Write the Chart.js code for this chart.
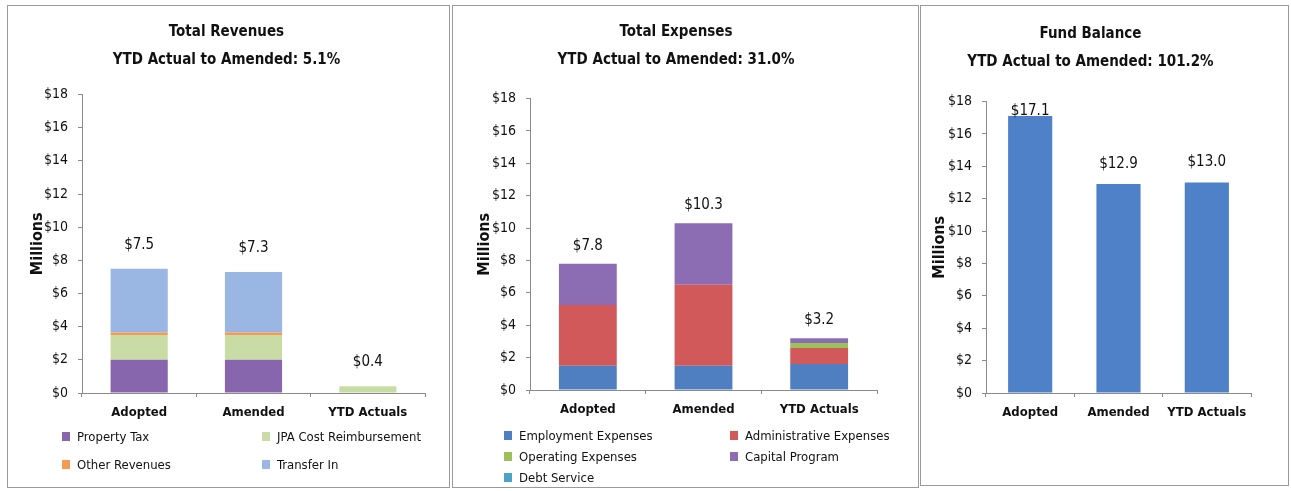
<!DOCTYPE html>
<html>
<head>
<meta charset="utf-8">
<script src="https://cdn.jsdelivr.net/npm/chart.js@4.4.1/dist/chart.umd.min.js"></script>
<style>
  body { margin: 0; background: #fff; width: 1291px; height: 491px; position: relative; overflow: hidden; }
  .panel { position: absolute; border: 1px solid #9a9a9a; background: #fff; }
  .panel canvas { position: absolute; left: 0; top: 0; }
  .legend { position: absolute; display: grid; font-family: 'Liberation Sans Narrow', 'DejaVu Sans Condensed', 'Liberation Sans', sans-serif; font-size: 13px; color: #111; }
  .legend .item { display: flex; align-items: center; white-space: nowrap; }
  .legend .box { width: 8px; height: 9px; margin-right: 7px; }
</style>
</head>
<body>
<div class="panel" id="p1" style="left:7px;top:5px;width:441px;height:481px;">
  <canvas id="revChart" width="441" height="481"></canvas>
  <div class="legend" id="revLegend" style="left:54px;top:423px;grid-template-columns:200px 180px;row-gap:13px;"></div>
</div>
<div class="panel" id="p2" style="left:452px;top:5px;width:465px;height:481px;">
  <canvas id="expChart" width="465" height="481"></canvas>
  <div class="legend" id="expLegend" style="left:51px;top:422px;grid-template-columns:226px 190px;row-gap:6px;"></div>
</div>
<div class="panel" id="p3" style="left:920px;top:5px;width:367px;height:479px;">
  <canvas id="fundChart" width="367" height="479"></canvas>
</div>
<script>
const categories = ['Adopted', 'Amended', 'YTD Actuals'];

// Revenues ($ millions), stacked bottom to top
const propertyTax = [2.0, 2.0, 0];
const jpaCostReimbursement = [1.5, 1.5, 0.4];
const otherRevenues = [0.15, 0.15, 0];
const transferIn = [3.85, 3.65, 0];

// Expenses ($ millions)
const employmentExpenses = [1.5, 1.5, 1.6];
const administrativeExpenses = [3.75, 5.0, 1.0];
const operatingExpenses = [0, 0, 0.3];
const capitalProgram = [2.55, 3.8, 0.3];
const debtService = [0, 0, 0];

// Fund balance ($ millions)
const fundBalance = [17.1, 12.9, 13.0];

const yTicks = [0, 2, 4, 6, 8, 10, 12, 14, 16, 18];

const FONT = "'Liberation Sans Narrow', 'DejaVu Sans Condensed', 'Liberation Sans', sans-serif";
Chart.defaults.font.family = FONT;
Chart.defaults.color = '#111';

// total of each stack, written above the bar
const totalLabels = {
  id: 'totalLabels',
  afterDatasetsDraw(chart, args, opts) {
    const { ctx, scales: { x, y }, chartArea } = chart;
    ctx.save();
    ctx.font = '15px ' + FONT;
    ctx.fillStyle = '#111';
    ctx.textAlign = 'center';
    ctx.textBaseline = 'middle';
    chart.data.labels.forEach((_, i) => {
      const total = chart.data.datasets.reduce((s, d) => s + (d.data[i] || 0), 0);
      const py = Math.max(y.getPixelForValue(total) - opts.gap, chartArea.top + 10);
      ctx.fillText('$' + total.toFixed(1), x.getPixelForValue(i), py);
    });
    ctx.restore();
  }
};

function makeChart(id, datasets, title, cfg) {
  return new Chart(document.getElementById(id), {
    type: 'bar',
    data: { labels: categories, datasets },
    plugins: [totalLabels],
    options: {
      responsive: false,
      animation: false,
      layout: { padding: cfg.pad },
      datasets: { bar: { barPercentage: 0.5, categoryPercentage: 1 } },
      plugins: {
        legend: { display: false },
        tooltip: { enabled: false },
        title: {
          display: true,
          text: title,
          font: { size: 15, weight: 'bold', lineHeight: 1.85 },
          color: '#111',
          padding: cfg.titlePad,
        },
        totalLabels: { gap: cfg.gap },
      },
      scales: {
        x: {
          stacked: true,
          grid: { display: true, drawOnChartArea: false, tickLength: 4, color: '#8a8a8a' },
          border: { color: '#8a8a8a' },
          ticks: { font: { size: 13, weight: 'bold' }, color: '#111', padding: 8, maxRotation: 0, autoSkip: false },
          afterFit(s) { s.height = 32; },
        },
        y: {
          stacked: true,
          min: 0,
          max: 18,
          afterBuildTicks(s) { s.ticks = yTicks.map(v => ({ value: v })); },
          grid: { display: true, drawOnChartArea: false, tickLength: 4, color: '#8a8a8a' },
          border: { color: '#8a8a8a' },
          ticks: { font: { size: 14 }, color: '#111', padding: 10, callback: v => '$' + v },
          title: { display: true, text: 'Millions', font: { size: 16, weight: 'bold' }, color: '#111', padding: 0 },
          afterFit(s) { s.width = cfg.yWidth; },
        },
      },
    },
  });
}

function buildLegend(chart, elId) {
  const el = document.getElementById(elId);
  chart.data.datasets.forEach(d => {
    const item = document.createElement('div');
    item.className = 'item';
    const box = document.createElement('span');
    box.className = 'box';
    box.style.background = d.backgroundColor;
    item.appendChild(box);
    item.appendChild(document.createTextNode(d.label));
    el.appendChild(item);
  });
}

const rev = makeChart('revChart', [
  { label: 'Property Tax', data: propertyTax, backgroundColor: '#8766ad' },
  { label: 'JPA Cost Reimbursement', data: jpaCostReimbursement, backgroundColor: '#c9dca6' },
  { label: 'Other Revenues', data: otherRevenues, backgroundColor: '#f59a52' },
  { label: 'Transfer In', data: transferIn, backgroundColor: '#9ab6e2' },
], ['Total Revenues', 'YTD Actual to Amended: 5.1%'],
  { pad: { left: 20, right: 24, top: 0, bottom: 62 }, titlePad: { top: 12, bottom: 21 }, yWidth: 54, gap: 24 });
buildLegend(rev, 'revLegend');

const exp = makeChart('expChart', [
  { label: 'Employment Expenses', data: employmentExpenses, backgroundColor: '#4f7fc0' },
  { label: 'Administrative Expenses', data: administrativeExpenses, backgroundColor: '#d1595a' },
  { label: 'Operating Expenses', data: operatingExpenses, backgroundColor: '#9cc05a' },
  { label: 'Capital Program', data: capitalProgram, backgroundColor: '#8c6db3' },
  { label: 'Debt Service', data: debtService, backgroundColor: '#4ba3c6' },
], ['Total Expenses', 'YTD Actual to Amended: 31.0%'],
  { pad: { left: 22, right: 41, top: 0, bottom: 65 }, titlePad: { top: 12, bottom: 25 }, yWidth: 55, gap: 18 });
buildLegend(exp, 'expLegend');

makeChart('fundChart', [
  { label: 'Fund Balance', data: fundBalance, backgroundColor: '#4f81c8' },
], ['Fund Balance', 'YTD Actual to Amended: 101.2%'],
  { pad: { left: 9, right: 37, top: 0, bottom: 60 }, titlePad: { top: 14, bottom: 26 }, yWidth: 56, gap: 20 });
</script>
</body>
</html>
